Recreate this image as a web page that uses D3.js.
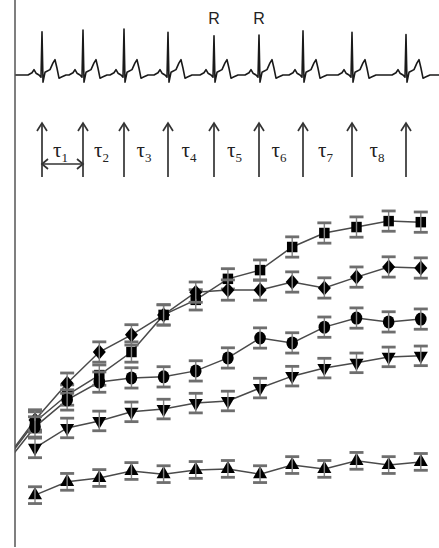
<!DOCTYPE html>
<html>
<head>
<meta charset="utf-8">
<script src="https://cdn.jsdelivr.net/npm/d3@7"></script>
<style>
  body { margin: 0; background: #fff; }
  svg { display: block; }
</style>
</head>
<body>
<script>
// ECG strip: R-peak times (s) and R amplitudes (mV)
const beatTimes = [0.135, 0.340, 0.545, 0.765, 0.995, 1.220, 1.440, 1.685, 1.955];
const rAmps = [0.96, 1.00, 1.02, 0.95, 0.87, 0.89, 0.98, 0.95, 0.90];
// one PQRST complex, [offset from R (s), mV]; null = R amplitude
const beatShape = [[-0.07, 0], [-0.05, 0.05], [-0.04, 0.12], [-0.03, 0.04], [-0.015, 0],
  [-0.005, -0.05], [0, null], [0.005, -0.16], [0.015, 0.06], [0.04, 0.12], [0.055, 0.27],
  [0.065, 0.34], [0.075, 0.15], [0.085, -0.07], [0.1, -0.04], [0.12, 0]];
const rLabelBeats = [4, 5];
const tauLabels = ['1', '2', '3', '4', '5', '6', '7', '8'];

// lower panel: interval index 0..13 (index 0 only feeds the line entering from the axis)
const intervals = d3.range(14);
const squareVals  = [23.8, 36.0, 43.7, 49.4, 56.0, 66.6, 70.9, 76.9, 79.4, 86.0, 90.0, 91.7, 93.4, 93.1];
const diamondVals = [24.3, 36.6, 47.1, 56.0, 60.9, 66.6, 73.1, 73.7, 73.7, 76.0, 74.3, 77.4, 80.3, 80.0];
const circleVals  = [23.1, 34.6, 42.3, 47.4, 48.6, 48.9, 50.6, 54.3, 60.0, 58.6, 63.1, 65.7, 64.6, 65.4];
const triDownVals = [null, 28.6, 34.3, 36.3, 38.9, 39.7, 41.4, 42.0, 45.7, 49.1, 51.4, 52.9, 54.6, 54.9];
const triUpVals   = [null, 15.1, 18.9, 20.0, 22.0, 21.1, 22.3, 22.6, 21.1, 23.7, 22.6, 24.9, 23.7, 24.6];
const errVals = [2.9, 2.9, 2.9, 2.8, 2.4];

const W = 439, H = 548;
const axisX = 15;

const svg = d3.select('body').append('svg')
  .attr('width', W).attr('height', H);
svg.append('rect').attr('width', W).attr('height', H).attr('fill', '#fff');

// ---- ECG ----
const ecgX = d3.scaleLinear().domain([0, 2.12]).range([axisX, W]);
const ecgY = d3.scaleLinear().domain([-0.5, 1.5]).range([97.5, 7.5]);

let ecgPts = [[0, 0]];
beatTimes.forEach((t, i) => {
  beatShape.forEach(p => ecgPts.push([t + p[0], p[1] === null ? rAmps[i] : p[1]]));
});
ecgPts.push([2.12, 0]);

svg.append('path')
  .attr('d', d3.line().x(d => ecgX(d[0])).y(d => ecgY(d[1]))(ecgPts))
  .attr('fill', 'none').attr('stroke', '#1a1a1a').attr('stroke-width', 1.6)
  .attr('stroke-linejoin', 'round');

svg.selectAll('.rlab').data(rLabelBeats).enter().append('text')
  .attr('x', i => ecgX(beatTimes[i]))
  .attr('y', 24)
  .attr('text-anchor', 'middle')
  .attr('font-family', 'Liberation Sans, Arial, sans-serif')
  .attr('font-size', 16)
  .attr('fill', '#222')
  .text('R');

// ---- arrows and tau intervals ----
const arrowTop = 123, arrowBot = 177;
const arr = svg.append('g').attr('stroke', '#333').attr('stroke-width', 1.7).attr('fill', 'none');
beatTimes.forEach(t => {
  const x = ecgX(t);
  arr.append('line').attr('x1', x).attr('x2', x).attr('y1', arrowBot).attr('y2', arrowTop);
  arr.append('path').attr('d', `M${x - 5},${arrowTop + 8}L${x},${arrowTop}L${x + 5},${arrowTop + 8}`);
});

// double-headed arrow under tau1
const x1 = ecgX(beatTimes[0]), x2 = ecgX(beatTimes[1]), yd = 164;
arr.append('line').attr('x1', x1).attr('x2', x2).attr('y1', yd).attr('y2', yd);
arr.append('path').attr('d', `M${x1 + 6},${yd - 5}L${x1},${yd}L${x1 + 6},${yd + 5}`);
arr.append('path').attr('d', `M${x2 - 6},${yd - 5}L${x2},${yd}L${x2 - 6},${yd + 5}`);

tauLabels.forEach((s, i) => {
  const mid = (ecgX(beatTimes[i]) + ecgX(beatTimes[i + 1])) / 2;
  const tx = svg.append('text')
    .attr('x', mid - 2).attr('y', 157)
    .attr('text-anchor', 'middle')
    .attr('font-family', 'Liberation Serif, Times New Roman, serif')
    .attr('font-size', 21)
    .attr('fill', '#222');
  tx.append('tspan').text('\u03c4');
  tx.append('tspan').attr('font-size', 13).attr('dy', 5).text(s);
});

// ---- lower panel ----
const x = d3.scaleLinear().domain([0, 13]).range([2.85, 420.8]);
const y = d3.scaleLinear().domain([0, 100]).range([548, 198]);

svg.append('clipPath').attr('id', 'plotclip')
  .append('rect').attr('x', axisX).attr('y', 0).attr('width', W - axisX).attr('height', H);

const diamond = 'M0,-7.5L6.5,0L0,7.5L-6.5,0Z';
const series = [
  { vals: squareVals,  sym: d3.symbol(d3.symbolSquare, 110)() },
  { vals: diamondVals, sym: diamond },
  { vals: circleVals,  sym: 'ellipse' },
  { vals: triDownVals, sym: d3.symbol(d3.symbolTriangle, 85)(), rot: 180 },
  { vals: triUpVals,   sym: d3.symbol(d3.symbolTriangle, 85)(), rot: 0 }
];

const line = d3.line()
  .defined(d => d[1] !== null)
  .x(d => x(d[0])).y(d => y(d[1]));

const plot = svg.append('g').attr('clip-path', 'url(#plotclip)');

series.forEach(s => {
  plot.append('path')
    .attr('d', line(intervals.map(i => [i, s.vals[i]])))
    .attr('fill', 'none').attr('stroke', '#4a4a4a').attr('stroke-width', 1.5);
});

series.forEach((s, si) => {
  const pts = intervals.slice(1).map(i => [i, s.vals[i]]);
  const g = plot.append('g');
  pts.forEach(p => {
    const cx = x(p[0]), cy = y(p[1]);
    if (s.sym === 'ellipse') {
      g.append('ellipse').attr('cx', cx).attr('cy', cy).attr('rx', 5.8).attr('ry', 6.5).attr('fill', '#000');
    } else {
      g.append('path').attr('d', s.sym)
        .attr('transform', `translate(${cx},${cy})` + (s.rot ? ` rotate(${s.rot})` : ''))
        .attr('fill', '#000');
    }
    const e = errVals[si];
    const yt = y(p[1] + e), yb = y(p[1] - e);
    g.append('line').attr('x1', cx).attr('x2', cx).attr('y1', yt).attr('y2', yb)
      .attr('stroke', '#808080').attr('stroke-width', 1.4);
    [yt, yb].forEach(yy => g.append('line')
      .attr('x1', cx - 7).attr('x2', cx + 7).attr('y1', yy).attr('y2', yy)
      .attr('stroke', '#6e6e6e').attr('stroke-width', 2.8));
  });
});

// vertical axis
svg.append('line')
  .attr('x1', axisX).attr('x2', axisX).attr('y1', 0).attr('y2', 547)
  .attr('stroke', '#555').attr('stroke-width', 1.5);
</script>
</body>
</html>
